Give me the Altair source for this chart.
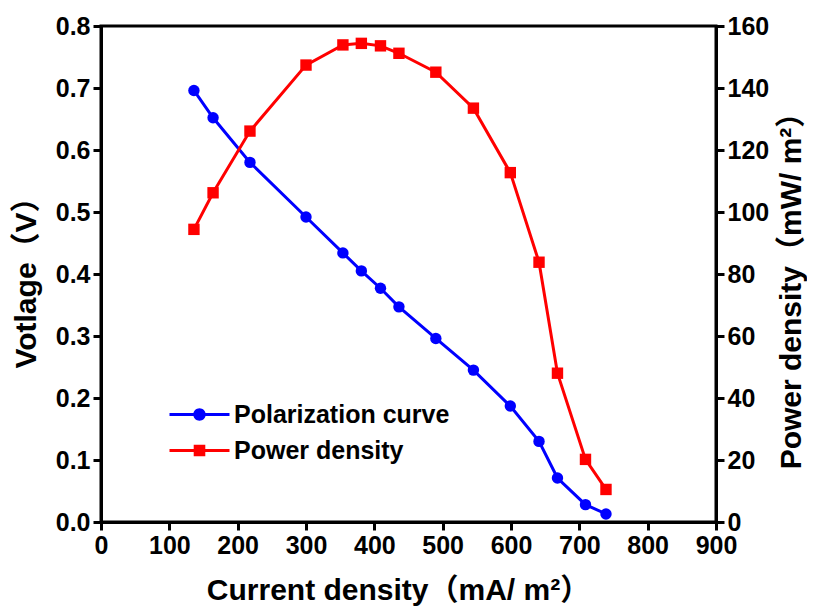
import altair as alt
import pandas as pd

current = [136, 164, 218, 300, 354, 381, 409, 436, 490, 545, 599, 641, 668, 709, 739]
voltage = [0.696, 0.652, 0.580, 0.492, 0.434, 0.405, 0.377, 0.347, 0.296, 0.245,
           0.187, 0.130, 0.071, 0.028, 0.013]
power = [94.4, 106.2, 126.1, 147.4, 153.9, 154.4, 153.6, 151.2, 145.1, 133.5,
         112.7, 83.8, 48.0, 20.2, 10.5]
series_names = ["Polarization curve", "Power density"]
series_colors = ["#0000ff", "#ff0000"]
x_ticks = [0, 100, 200, 300, 400, 500, 600, 700, 800, 900]
v_ticks = [0.0, 0.1, 0.2, 0.3, 0.4, 0.5, 0.6, 0.7, 0.8]
p_ticks = [0, 20, 40, 60, 80, 100, 120, 140, 160]

df_v = pd.DataFrame({"current": current, "value": voltage, "series": series_names[0]})
df_p = pd.DataFrame({"current": current, "value": power, "series": series_names[1]})
df_all = pd.concat([df_v, df_p], ignore_index=True)

FONT = "Liberation Sans, Noto Sans CJK SC"

# legend glyphs: line segment + marker (filled shapes, same winding)
circle_path = ("M-3,-0.15 H3 V0.15 H-3 Z "
               "M0.62,0 A0.62,0.62 0 1,1 -0.62,0 A0.62,0.62 0 1,1 0.62,0 Z")
square_path = "M-3,-0.15 H3 V0.15 H-3 Z M-0.58,-0.58 H0.58 V0.58 H-0.58 Z"

x_axis = alt.Axis(values=x_ticks, title="Current density（mA/ m²）", labelFlush=False,
                  titleX=297, titleY=77, titleAlign="center", titleBaseline="alphabetic")
x_enc = alt.X("current:Q", scale=alt.Scale(domain=[0, 900], nice=False), axis=x_axis)

legend = alt.Legend(
    title=None, orient="none", legendX=86, legendY=376,
    symbolSize=400, symbolStrokeWidth=0, labelOffset=22, rowPadding=10,
    labelFont=FONT, labelFontSize=25, labelFontWeight="bold", labelColor="black",
    labelLimit=600, padding=0, symbolOpacity=1,
)
color_enc = alt.Color("series:N", scale=alt.Scale(domain=series_names, range=series_colors),
                      legend=legend)
shape_enc = alt.Shape("series:N", scale=alt.Scale(domain=series_names,
                                                  range=[circle_path, square_path]),
                      legend=legend)

y_v = alt.Y("value:Q", scale=alt.Scale(domain=[0, 0.8], nice=False),
            axis=alt.Axis(values=v_ticks, format=".1f", title="Votlage（V）", orient="left",
                          titleAngle=270, titleX=-66, titleY=249, titleAlign="center",
                          titleBaseline="alphabetic"))
y_p = alt.Y("value:Q", scale=alt.Scale(domain=[0, 160], nice=False),
            axis=alt.Axis(values=p_ticks, format="d", title="Power density（mW/ m²）",
                          orient="right", titleAngle=270, titleX=84, titleY=257,
                          titleAlign="center", titleBaseline="alphabetic"))

v_line = alt.Chart(df_v).mark_line(strokeWidth=3, color="#0000ff").encode(x=x_enc, y=y_v)
v_pts = alt.Chart(df_v).mark_point(filled=True, shape="circle", size=130, opacity=1,
                                   color="#0000ff").encode(x=x_enc, y=y_v)
legend_layer = alt.Chart(df_all).transform_filter("false").mark_point(
    filled=True, opacity=1, size=400
).encode(x=x_enc, y=y_v, color=color_enc, shape=shape_enc)

p_line = alt.Chart(df_p).mark_line(strokeWidth=3, color="#ff0000").encode(x=x_enc, y=y_p)
p_pts = alt.Chart(df_p).mark_point(filled=True, shape="square", size=130, opacity=1,
                                   color="#ff0000").encode(x=x_enc, y=y_p)

left = alt.layer(v_line, v_pts, legend_layer)
right = alt.layer(p_line, p_pts)

chart = alt.layer(left, right).resolve_scale(y="independent").properties(
    width=615, height=496,
    autosize=alt.AutoSizeParams(type="none"),
    padding={"left": 93, "top": 18, "right": 91, "bottom": 85},
    background="white",
).configure_view(
    stroke="black", strokeWidth=3
).configure_axis(
    grid=False,
    domainColor="black", domainWidth=3,
    tickColor="black", tickWidth=3, tickSize=8,
    labelFont=FONT, labelFontSize=25, labelFontWeight="bold", labelColor="black",
    labelPadding=3,
    titleFont=FONT, titleFontSize=30, titleFontWeight="bold", titleColor="black",
)

chart.save("out.html", embed_options={"renderer": "svg", "actions": False})
